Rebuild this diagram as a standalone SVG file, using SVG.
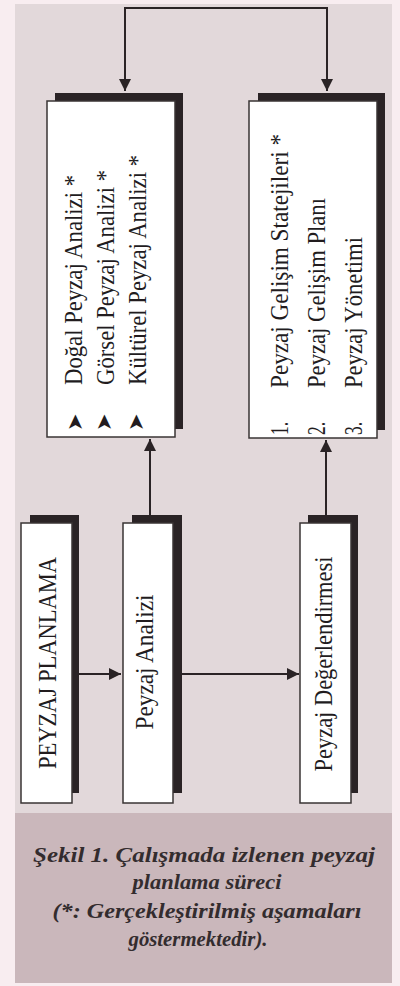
<svg xmlns="http://www.w3.org/2000/svg" width="400" height="986" viewBox="0 0 400 986">
<defs>
<style>
.shadow{fill:#2a2325}
.box{fill:#ffffff;stroke:#3a3434;stroke-width:1.5}
.t{font-family:"Liberation Serif","Times New Roman",serif;font-size:26px;fill:#221c1e}
.b{font-family:"DejaVu Sans",sans-serif;font-size:21px;fill:#221c1e}
.cap{font-family:"Liberation Serif","Times New Roman",serif;font-size:22px;font-style:italic;font-weight:bold;fill:#332c2e;text-anchor:middle}
.ln{fill:none;stroke:#2a2325;stroke-width:2}
</style>
<marker id="ah" viewBox="0 0 12 12" refX="12" refY="6" markerWidth="12" markerHeight="13" markerUnits="userSpaceOnUse" orient="auto-start-reverse">
<path d="M0,0 L12,6 L0,12 z" fill="#2a2325"/>
</marker>
</defs>
<rect x="0" y="0" width="400" height="986" fill="#f8edf0"/>
<rect x="15" y="4" width="377" height="809" fill="#e2d8da"/>
<rect x="15" y="813" width="377" height="170" fill="#cab7bb"/>

<g id="connectors">
<path class="ln" d="M125,91 V8 H327 V91" marker-start="url(#ah)" marker-end="url(#ah)"/>
<path class="ln" d="M150,515 V439" marker-end="url(#ah)"/>
<path class="ln" d="M326,515 V440" marker-end="url(#ah)"/>
<path class="ln" d="M79,674 H121" marker-end="url(#ah)"/>
<path class="ln" d="M182,674 H299" marker-end="url(#ah)"/>
</g>

<g id="analiz-detay">
<rect class="shadow" x="55" y="93" width="128" height="336"/>
<rect class="box" x="47" y="101" width="128" height="336"/>
<text class="b" transform="translate(82,431) rotate(-90)">➤</text>
<text class="b" transform="translate(111,431) rotate(-90)">➤</text>
<text class="b" transform="translate(143,431) rotate(-90)">➤</text>
<text class="t" transform="translate(82,385) rotate(-90)" textLength="210" lengthAdjust="spacingAndGlyphs">Doğal Peyzaj Analizi *</text>
<text class="t" transform="translate(114,385) rotate(-90)" textLength="215" lengthAdjust="spacingAndGlyphs">Görsel Peyzaj Analizi *</text>
<text class="t" transform="translate(146,385) rotate(-90)" textLength="230" lengthAdjust="spacingAndGlyphs">Kültürel Peyzaj Analizi *</text>
</g>

<g id="gelisim">
<rect class="shadow" x="258" y="93" width="127" height="337"/>
<rect class="box" x="249" y="101" width="128" height="337"/>
<text class="t" transform="translate(288,435) rotate(-90)" textLength="13" lengthAdjust="spacingAndGlyphs">1.</text>
<text class="t" transform="translate(325,435) rotate(-90)" textLength="13" lengthAdjust="spacingAndGlyphs">2.</text>
<text class="t" transform="translate(362,435) rotate(-90)" textLength="13" lengthAdjust="spacingAndGlyphs">3.</text>
<text class="t" transform="translate(288,388) rotate(-90)" textLength="254" lengthAdjust="spacingAndGlyphs">Peyzaj Gelişim Statejileri *</text>
<text class="t" transform="translate(325,388) rotate(-90)" textLength="190" lengthAdjust="spacingAndGlyphs">Peyzaj Gelişim Planı</text>
<text class="t" transform="translate(362,388) rotate(-90)" textLength="151" lengthAdjust="spacingAndGlyphs">Peyzaj Yönetimi</text>
</g>

<g id="peyzaj-planlama">
<rect class="shadow" x="30" y="515" width="49" height="278"/>
<rect class="box" x="21" y="523" width="51" height="280"/>
<text class="t" transform="translate(56,663) rotate(-90)" text-anchor="middle" textLength="212" lengthAdjust="spacingAndGlyphs">PEYZAJ PLANLAMA</text>
</g>

<g id="peyzaj-analizi">
<rect class="shadow" x="132" y="515" width="50" height="278"/>
<rect class="box" x="123" y="523" width="50" height="280"/>
<text class="t" transform="translate(153,662) rotate(-90)" text-anchor="middle" textLength="135" lengthAdjust="spacingAndGlyphs">Peyzaj Analizi</text>
</g>

<g id="peyzaj-degerlendirmesi">
<rect class="shadow" x="308" y="515" width="50" height="278"/>
<rect class="box" x="300" y="523" width="51" height="280"/>
<text class="t" transform="translate(332,664) rotate(-90)" text-anchor="middle" textLength="215" lengthAdjust="spacingAndGlyphs">Peyzaj Değerlendirmesi</text>
</g>

<g id="caption">
<text class="cap" x="204" y="862" textLength="342" lengthAdjust="spacingAndGlyphs">Şekil 1. Çalışmada izlenen peyzaj</text>
<text class="cap" x="207" y="889" textLength="149" lengthAdjust="spacingAndGlyphs">planlama süreci</text>
<text class="cap" x="207" y="918" textLength="309" lengthAdjust="spacingAndGlyphs">(*: Gerçekleştirilmiş aşamaları</text>
<text class="cap" x="198" y="946" textLength="139" lengthAdjust="spacingAndGlyphs">göstermektedir).</text>
</g>
</svg>
